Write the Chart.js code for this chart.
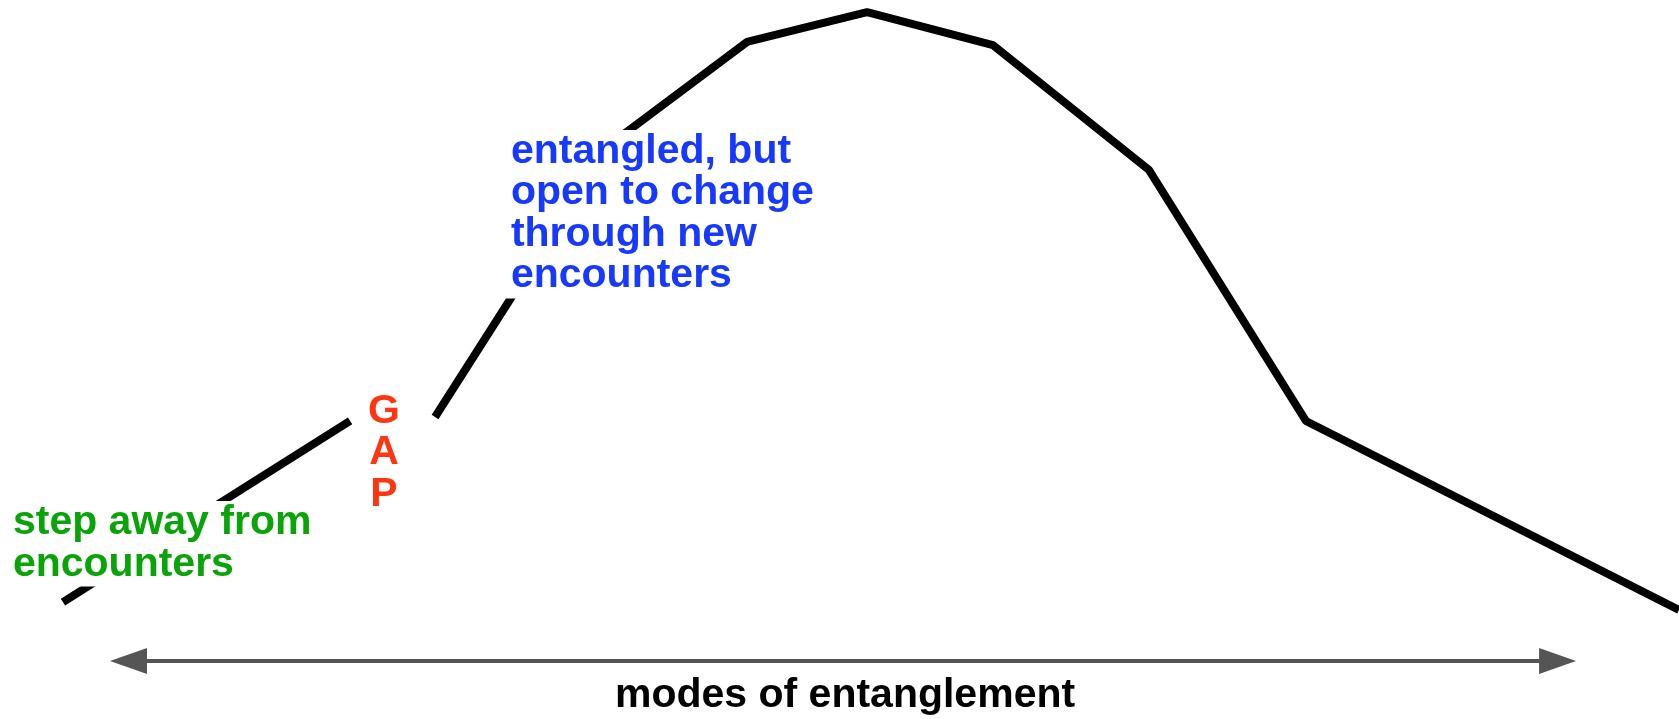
<!DOCTYPE html>
<html>
<head>
<meta charset="utf-8">
<script src="https://cdn.jsdelivr.net/npm/chart.js@4/dist/chart.umd.min.js"></script>
<style>
  html, body { margin: 0; padding: 0; background: #fff; }
  #wrap { width: 1679px; height: 719px; position: relative; }
</style>
</head>
<body>
<div id="wrap"><canvas id="curve"></canvas></div>
<script>
'use strict';

// curve (x: mode, y: engagement, both 0..100)
var modeX   = [3.75, 20.85, null, 25.91, 36.21, 44.49, 51.64, 59.14, 68.43, 77.78, 100];
var engageY = [16.27, 41.45, null, 42.0, 79.69, 94.16, 98.33, 93.74, 76.36, 41.45, 15.16];

// labels, placed in data units
var axisTitle  = 'modes of entanglement';
var openLines  = ['entangled, but', 'open to change', 'through new', 'encounters'];
var openAt     = [30.43, 77.33];
var awayLines  = ['step away from', 'encounters'];
var awayAt     = [0.77, 25.73];
var gapLetters = ['G', 'A', 'P'];
var gapAt      = [22.87, 41.17];
var titleAt    = [50.33, 1.67];
var arrowSpan  = [6.55, 93.87];
var arrowY     = 8.07;

var FONT = 'bold 41px "Liberation Sans", Arial, Helvetica, sans-serif';
var LINE_H = 41.5;

function fillArrow(ctx, tipX, baseX, y, half) {
  ctx.beginPath();
  ctx.moveTo(tipX, y);
  ctx.lineTo(baseX, y - half);
  ctx.lineTo(baseX, y + half);
  ctx.closePath();
  ctx.fill();
}

function textBlock(ctx, lines, x, y, color) {
  var w = 0;
  ctx.font = FONT;
  lines.forEach(function (l) { w = Math.max(w, ctx.measureText(l).width); });
  // white box knocks the curve out behind the words
  ctx.fillStyle = '#fff';
  ctx.fillRect(x - 6, y - 33, w + 12, (lines.length - 1) * LINE_H + 44);
  ctx.fillStyle = color;
  ctx.textAlign = 'left';
  ctx.textBaseline = 'alphabetic';
  lines.forEach(function (l, i) { ctx.fillText(l, x, y + i * LINE_H); });
}

var labelsPlugin = {
  id: 'labels',
  afterDatasetsDraw: function (chart) {
    var ctx = chart.ctx, xs = chart.scales.x, ys = chart.scales.y;
    ctx.save();

    textBlock(ctx, openLines, xs.getPixelForValue(openAt[0]), ys.getPixelForValue(openAt[1]), '#1638ff');
    textBlock(ctx, awayLines, xs.getPixelForValue(awayAt[0]), ys.getPixelForValue(awayAt[1]), '#08a408');

    // GAP, stacked
    ctx.font = FONT;
    ctx.fillStyle = '#ff3410';
    ctx.textAlign = 'center';
    var gx = xs.getPixelForValue(gapAt[0]), gy = ys.getPixelForValue(gapAt[1]);
    gapLetters.forEach(function (c, i) { ctx.fillText(c, gx, gy + i * LINE_H); });

    // double headed arrow
    var ay = ys.getPixelForValue(arrowY);
    var a0 = xs.getPixelForValue(arrowSpan[0]), a1 = xs.getPixelForValue(arrowSpan[1]);
    ctx.strokeStyle = '#555555';
    ctx.fillStyle = '#555555';
    ctx.lineWidth = 4;
    ctx.beginPath();
    ctx.moveTo(a0 + 30, ay);
    ctx.lineTo(a1 - 30, ay);
    ctx.stroke();
    fillArrow(ctx, a0, a0 + 37, ay, 13);
    fillArrow(ctx, a1, a1 - 37, ay, 13);

    // axis title
    ctx.fillStyle = '#000';
    ctx.textAlign = 'center';
    ctx.fillText(axisTitle, xs.getPixelForValue(titleAt[0]), ys.getPixelForValue(titleAt[1]));
    ctx.restore();
  }
};

var points = modeX.map(function (x, i) {
  return { x: x, y: engageY[i] };
});

var ctx = document.getElementById('curve').getContext('2d');
var chart = new Chart(ctx, {
  type: 'line',
  data: {
    datasets: [{
      data: points,
      borderColor: '#000',
      borderWidth: 8,
      borderJoinStyle: 'bevel',
      borderCapStyle: 'butt',
      tension: 0,
      pointRadius: 0,
      spanGaps: false,
      fill: false
    }]
  },
  options: {
    animation: false,
    responsive: true,
    maintainAspectRatio: false,
    layout: { padding: 0 },
    plugins: { legend: { display: false }, tooltip: { enabled: false } },
    scales: {
      x: { type: 'linear', display: false, min: 0, max: 100 },
      y: { type: 'linear', display: false, min: 0, max: 100 }
    }
  },
  plugins: [labelsPlugin]
});
</script>
</body>
</html>
